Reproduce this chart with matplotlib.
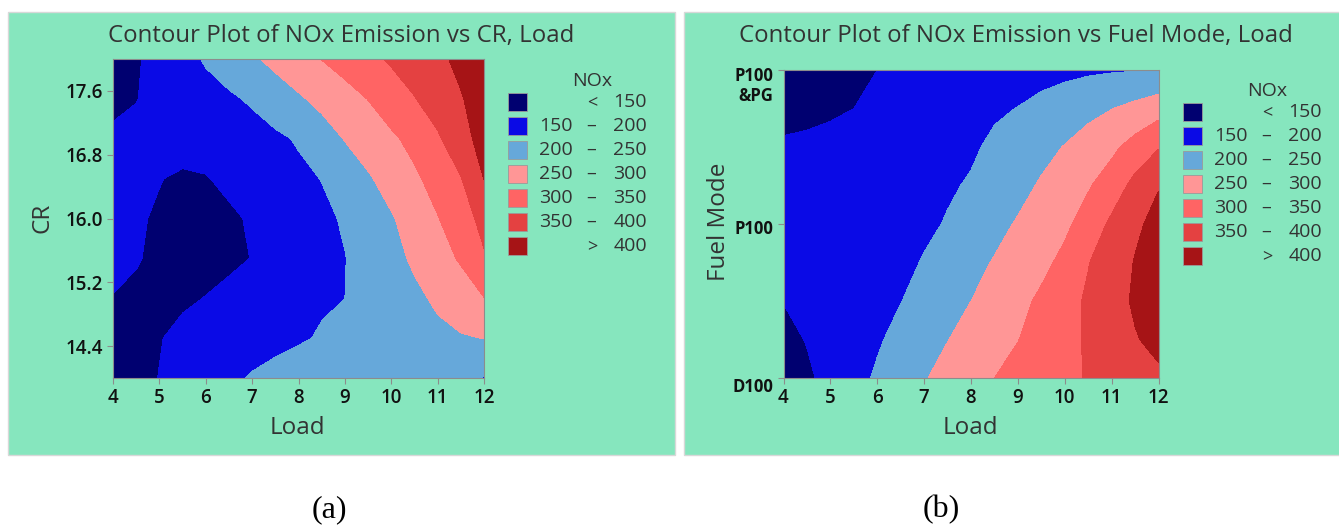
import numpy as np
import matplotlib
matplotlib.use('Agg')
import matplotlib.pyplot as plt
from matplotlib.patches import Rectangle
import matplotlib.transforms as mtransforms

plt.rcParams['font.family'] = ['Open Sans', 'DejaVu Sans']

# 横轴: Load
load = [4, 4.5, 5, 5.5, 6, 6.5, 7, 7.5, 8, 8.5, 9, 9.5, 10, 10.5, 11, 11.5, 12]

# (a) NOx vs CR, Load  (行 = CR, 列 = Load)
cr = [14.0, 14.5, 15.0, 15.5, 16.0, 16.5, 17.0, 17.5, 18.0]
nox_a = [
    [125, 138, 151, 166, 180, 193, 203, 211, 218, 222, 225, 226, 225, 222, 216, 208, 198],
    [130, 138, 148, 160, 170, 178, 185, 190, 196, 203, 210, 218, 226, 233, 240, 246, 251],
    [149, 145, 142, 144, 151, 160, 171, 182, 191, 196, 200, 212, 226, 241, 257, 277, 299],
    [157, 152, 144, 138, 137, 142, 151, 166, 180, 192, 199, 216, 236, 257, 282, 305, 345],
    [158, 153, 147, 140, 139, 144, 154, 166, 180, 192, 204, 225, 246, 270, 298, 328, 365],
    [163, 157, 151, 146, 148, 158, 170, 180, 191, 201, 224, 245, 268, 292, 318, 348, 401],
    [156, 158, 160, 162, 166, 173, 182, 192, 204, 228, 252, 272, 292, 314, 344, 380, 420],
    [142, 149, 160, 172, 183, 193, 206, 225, 244, 263, 282, 301, 326, 348, 372, 397, 420],
    [135, 146, 163, 183, 205, 224, 243, 263, 282, 301, 319, 337, 356, 374, 391, 410, 428],
]
cr_ticks = [14.4, 15.2, 16.0, 16.8, 17.6]

# (b) NOx vs Fuel Mode, Load  (行 = Fuel Mode 0..2)
fuel = [0, 0.25, 0.5, 0.75, 1.0, 1.25, 1.5, 1.75, 2.0]
nox_b = [
    [125, 143, 163, 185, 206, 226, 247, 265, 282, 300, 313, 326, 340, 353, 366, 380, 392],
    [138, 152, 167, 181, 195, 213, 232, 249, 266, 283, 299, 317, 335, 356, 378, 397, 412],
    [151, 158, 167, 176, 186, 199, 216, 233, 250, 268, 289, 307, 332, 357, 382, 406, 420],
    [160, 165, 170, 175, 181, 189, 203, 220, 237, 253, 272, 290, 310, 348, 378, 402, 418],
    [170, 172, 174, 177, 181, 186, 192, 203, 220, 237, 254, 273, 292, 318, 360, 393, 412],
    [168, 170, 172, 175, 179, 184, 189, 195, 204, 220, 236, 255, 276, 296, 322, 365, 398],
    [155, 157, 160, 164, 168, 173, 179, 186, 194, 208, 222, 236, 252, 270, 290, 318, 347],
    [138, 141, 145, 150, 156, 163, 170, 178, 186, 194, 201, 212, 224, 237, 249, 263, 280],
    [128, 133, 138, 144, 150, 156, 161, 166, 171, 176, 181, 185, 189, 193, 196, 198, 199],
]
fuel_ticks = [0, 1, 2]
fuel_labels = ['D100', 'P100', 'P100\n&PG']

load_ticks = [4, 5, 6, 7, 8, 9, 10, 11, 12]
levels = [150, 200, 250, 300, 350, 400]
colors = ['#000070', '#0A0AE6', '#66A8DA', '#FF9696', '#FF6464', '#E44141', '#A61416']

BG = '#86E6BE'
TXT = '#333333'
W, H = 1339, 529

fig = plt.figure(figsize=(W / 100, H / 100), dpi=100)
fig.patch.set_facecolor('white')


def px(x, y):
    # 像素坐标(左上为原点) -> figure 坐标
    return x / W, 1 - y / H


def panel(x0, y0, x1, y1):
    fig.patches.append(Rectangle(px(x0, y1), (x1 - x0) / W, (y1 - y0) / H,
                                 transform=fig.transFigure, facecolor=BG,
                                 edgecolor='#d8d8d8', lw=1, zorder=-5))


def style_axes(ax):
    for s in ax.spines.values():
        s.set_color('#8c8c8c')
        s.set_linewidth(0.8)
    ax.tick_params(direction='out', length=4, width=0.8, color='#8c8c8c',
                   labelcolor='#111111', labelsize=13.5)
    for lab in ax.get_xticklabels() + ax.get_yticklabels():
        lab.set_fontweight('semibold')


def draw_legend(x0, y0):
    fig.text(*px(x0 + 84, y0 - 21), 'NOx', ha='center', va='center',
             fontsize=14, color=TXT)
    edges = [None] + levels + [None]
    for i, c in enumerate(colors):
        yc = y0 + i * 24
        fig.patches.append(Rectangle(px(x0, yc + 9), 19 / W, 18 / H,
                                     transform=fig.transFigure, facecolor=c,
                                     edgecolor='#9a9a9a', lw=0.6, zorder=2))
        lo, hi = edges[i], edges[i + 1]
        if lo is None:
            fig.text(*px(x0 + 84, yc), '<', ha='center', va='center', fontsize=13, color=TXT)
            fig.text(*px(x0 + 139, yc), str(hi), ha='right', va='center', fontsize=14, color=TXT)
        elif hi is None:
            fig.text(*px(x0 + 84, yc), '>', ha='center', va='center', fontsize=13, color=TXT)
            fig.text(*px(x0 + 139, yc), str(lo), ha='right', va='center', fontsize=14, color=TXT)
        else:
            fig.text(*px(x0 + 65, yc), str(lo), ha='right', va='center', fontsize=14, color=TXT)
            fig.text(*px(x0 + 83, yc), '–', ha='center', va='center', fontsize=14, color=TXT)
            fig.text(*px(x0 + 139, yc), str(hi), ha='right', va='center', fontsize=14, color=TXT)


fill_levels = [0] + levels + [1000]

# ---------- (a) ----------
panel(8, 12, 675, 455)
ax1 = fig.add_axes([113 / W, 1 - 378 / H, 371 / W, 319 / H])
ax1.contourf(load, cr, nox_a, levels=fill_levels, colors=colors)
ax1.set_xlim(4, 12)
ax1.set_ylim(14, 18)
ax1.set_xticks(load_ticks)
ax1.set_yticks(cr_ticks)
ax1.set_yticklabels([f'{v:.1f}' for v in cr_ticks])
style_axes(ax1)
fig.text(*px(341, 36), 'Contour Plot of NOx Emission vs CR, Load', ha='center', va='center',
         fontsize=17.3, color=TXT)
fig.text(*px(297, 428), 'Load', ha='center', va='center', fontsize=17.5, color=TXT)
fig.text(*px(43, 218), 'CR', ha='center', va='center', rotation=90, fontsize=17.5, color=TXT)
draw_legend(508, 102)

# ---------- (b) ----------
panel(684, 12, 1345, 455)
ax2 = fig.add_axes([783.5 / W, 1 - 378 / H, 375 / W, 308 / H])
ax2.contourf(load, fuel, nox_b, levels=fill_levels, colors=colors)
ax2.set_xlim(4, 12)
ax2.set_ylim(0, 2)
ax2.set_xticks(load_ticks)
ax2.set_yticks(fuel_ticks)
ax2.set_yticklabels(fuel_labels)
style_axes(ax2)
for lab in ax2.get_yticklabels():
    lab.set_fontsize(12)
    lab.set_fontweight('bold')
    lab.set_linespacing(1.1)
ylabs = ax2.get_yticklabels()
ylabs[0].set_transform(ylabs[0].get_transform() + mtransforms.ScaledTranslation(0, -5 / 72, fig.dpi_scale_trans))
ylabs[1].set_transform(ylabs[1].get_transform() + mtransforms.ScaledTranslation(0, -2 / 72, fig.dpi_scale_trans))
ylabs[2].set_verticalalignment('top')
ylabs[2].set_transform(ylabs[2].get_transform() + mtransforms.ScaledTranslation(0, 2 / 72, fig.dpi_scale_trans))
fig.text(*px(1016, 36), 'Contour Plot of NOx Emission vs Fuel Mode, Load', ha='center', va='center',
         fontsize=17.3, color=TXT)
fig.text(*px(970, 428), 'Load', ha='center', va='center', fontsize=17.5, color=TXT)
fig.text(*px(719, 222), 'Fuel Mode', ha='center', va='center', rotation=90, fontsize=17.5, color=TXT)
draw_legend(1183, 112)

# 图注
fig.text(*px(329, 510), '(a)', ha='center', va='center', fontsize=23, family='Liberation Serif', color='black')
fig.text(*px(941, 510), '(b)', ha='center', va='center', fontsize=23, family='Liberation Serif', color='black')

fig.savefig('out.png', dpi=100)
